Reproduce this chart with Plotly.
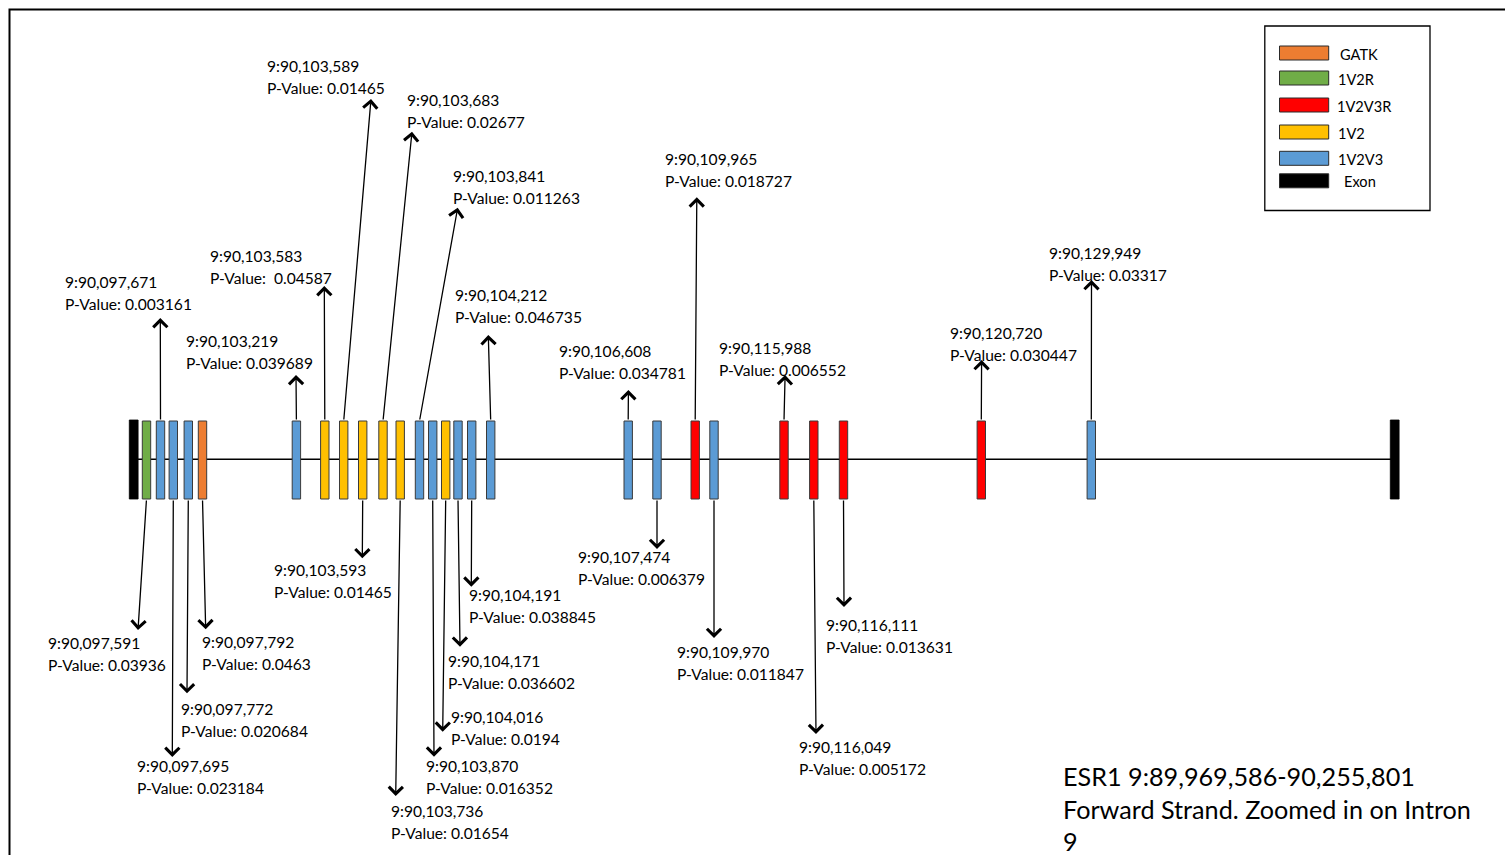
import plotly.graph_objects as go

# ESR1 intron 9 variants: genomic id, association p-value and the caller set that found them
variant_ids = [
    "9:90,097,591", "9:90,097,671", "9:90,097,695", "9:90,097,772", "9:90,097,792",
    "9:90,103,219", "9:90,103,583", "9:90,103,589", "9:90,103,593", "9:90,103,683",
    "9:90,103,736", "9:90,103,841", "9:90,103,870", "9:90,104,016", "9:90,104,171",
    "9:90,104,191", "9:90,104,212", "9:90,106,608", "9:90,107,474", "9:90,109,965",
    "9:90,109,970", "9:90,115,988", "9:90,116,049", "9:90,116,111", "9:90,120,720",
    "9:90,129,949",
]
p_values = [
    "0.03936", "0.003161", "0.023184", "0.020684", "0.0463",
    "0.039689", "\u00a00.04587", "0.01465", "0.01465", "0.02677",
    "0.01654", "0.011263", "0.016352", "0.0194", "0.036602",
    "0.038845", "0.046735", "0.034781", "0.006379", "0.018727",
    "0.011847", "0.006552", "0.005172", "0.013631", "0.030447",
    "0.03317",
]
caller_sets = [
    "1V2R", "1V2V3", "1V2V3", "1V2V3", "GATK",
    "1V2V3", "1V2", "1V2", "1V2", "1V2",
    "1V2", "1V2V3", "1V2V3", "1V2", "1V2V3",
    "1V2V3", "1V2V3", "1V2V3", "1V2V3", "1V2V3R",
    "1V2V3", "1V2V3R", "1V2V3R", "1V2V3R", "1V2V3R",
    "1V2V3",
]
# schematic (not to scale) position of each variant along the drawn intron
track_pos = [
    146.5, 160.5, 173.3, 188.3, 202.5,
    296.4, 324.8, 343.7, 362.7, 383.0,
    400.2, 419.5, 432.7, 445.7, 458.0,
    471.7, 490.7, 628.2, 657.0, 695.2,
    714.0, 784.0, 813.8, 843.5, 981.3,
    1091.3,
]
exon_pos = [133.7, 1394.7]

legend_names = ["GATK", "1V2R", "1V2V3R", "1V2", "1V2V3", "Exon"]

# ---- drawing layout -------------------------------------------------------
COLORS = {
    "GATK": "#ED7D31", "1V2R": "#70AD47", "1V2V3R": "#FF0000",
    "1V2": "#FFC000", "1V2V3": "#5B9BD5", "Exon": "#000000",
}
TRACK_Y = 459.3
BOX_TOP, BOX_BOT = 421.0, 499.0
BOX_W = 8.4
FONT = "Lato, 'Open Sans', sans-serif"
LINE_GAP = 22.0

# callout placement: side of the track, arrow tip (x, y), label corner (x, y)
callouts = [
    ("down", (138.0, 630.0), (47.5, 637.0)),
    ("up", (160.3, 318.0), (65.0, 276.0)),
    ("down", (172.3, 757.0), (136.7, 760.0)),
    ("down", (187.0, 693.3), (180.7, 703.3)),
    ("down", (205.7, 629.3), (202.3, 636.7)),
    ("up", (296.0, 375.0), (185.5, 335.5)),
    ("up", (324.3, 286.0), (210.0, 250.7)),
    ("up", (371.0, 99.0), (266.7, 60.0)),
    ("down", (362.3, 558.3), (273.5, 564.0)),
    ("up", (412.0, 131.7), (406.7, 94.3)),
    ("down", (395.7, 796.0), (390.7, 805.0)),
    ("up", (457.7, 207.7), (453.3, 170.0)),
    ("down", (434.0, 756.7), (426.0, 760.0)),
    ("down", (442.7, 731.7), (451.0, 711.0)),
    ("down", (460.0, 646.7), (447.7, 655.7)),
    ("down", (471.3, 586.7), (469.0, 589.3)),
    ("up", (488.3, 335.0), (455.0, 289.0)),
    ("up", (628.4, 390.0), (558.5, 345.0)),
    ("down", (657.0, 549.0), (578.3, 551.7)),
    ("up", (696.8, 197.3), (664.5, 153.0)),
    ("down", (714.0, 638.0), (676.5, 646.0)),
    ("up", (785.1, 375.0), (718.8, 342.7)),
    ("down", (816.0, 734.0), (798.5, 741.0)),
    ("down", (844.0, 607.0), (825.5, 619.0)),
    ("up", (981.6, 360.0), (949.7, 327.7)),
    ("up", (1091.5, 280.0), (1049.2, 247.3)),
]

shapes = []
annotations = []

# outer frame
shapes.append(dict(type="rect", x0=9.5, y0=9.5, x1=1515, y1=870,
                   line=dict(color="#000000", width=2), fillcolor="rgba(0,0,0,0)"))

# intron line
shapes.append(dict(type="line", x0=exon_pos[0], x1=exon_pos[1], y0=TRACK_Y, y1=TRACK_Y,
                   line=dict(color="#000000", width=1.6)))

# flanking exons
for ex in exon_pos:
    shapes.append(dict(type="rect", x0=ex - 4.4, x1=ex + 4.4, y0=420.0, y1=499.0,
                       line=dict(color="#000000", width=0.8), fillcolor="#000000"))

# variant boxes
for pos, cs in zip(track_pos, caller_sets):
    shapes.append(dict(type="rect", x0=pos - BOX_W / 2, x1=pos + BOX_W / 2,
                       y0=BOX_TOP, y1=BOX_BOT,
                       line=dict(color="#3a3a3a", width=1), fillcolor=COLORS[cs]))

# arrows and labels
for vid, pv, pos, (side, tip, lab) in zip(variant_ids, p_values, track_pos, callouts):
    tail_y = BOX_TOP if side == "up" else BOX_BOT
    annotations.append(dict(
        x=tip[0], y=tip[1], ax=pos, ay=tail_y,
        xref="x", yref="y", axref="x", ayref="y",
        text="", showarrow=True, arrowhead=4, arrowsize=2.1, arrowwidth=1.3,
        arrowcolor="#000000", standoff=0, startstandoff=0,
    ))
    for k, line in enumerate([vid, "P-Value: " + pv]):
        annotations.append(dict(
            x=lab[0], y=lab[1] + 5.5 + k * LINE_GAP, xref="x", yref="y",
            text=line, showarrow=False, xanchor="left", yanchor="middle",
            borderpad=0, borderwidth=0,
            font=dict(family=FONT, size=15.6, color="#000000"),
        ))

# legend box
shapes.append(dict(type="rect", x0=1264.8, x1=1430.0, y0=26.0, y1=210.5,
                   line=dict(color="#000000", width=1.3), fillcolor="#ffffff"))
legend_rows = [53.0, 78.0, 105.0, 132.0, 158.3, 180.8]
legend_text_x = [1340.0, 1338.0, 1337.0, 1338.0, 1338.0, 1344.0]
for name, yc, tx in zip(legend_names, legend_rows, legend_text_x):
    shapes.append(dict(type="rect", x0=1279.5, x1=1328.7, y0=yc - 7, y1=yc + 7,
                       line=dict(color="#2a2a2a", width=1), fillcolor=COLORS[name]))
    annotations.append(dict(
        x=tx, y=yc + 1, xref="x", yref="y", text=name, showarrow=False,
        xanchor="left", yanchor="middle", borderpad=0, borderwidth=0,
        font=dict(family=FONT, size=14.6, color="#000000"),
    ))

# gene / region caption
caption_lines = ["ESR1 9:89,969,586-90,255,801", "Forward Strand. Zoomed in on Intron", "9"]
for k, line in enumerate(caption_lines):
    annotations.append(dict(
        x=1062.5, y=776.0 + k * 32.5, xref="x", yref="y", text=line, showarrow=False,
        xanchor="left", yanchor="middle", borderpad=0, borderwidth=0,
        font=dict(family=FONT, size=25.2, color="#000000"),
    ))

fig = go.Figure()
fig.add_trace(go.Scatter(x=[0, 1505], y=[0, 855], mode="markers",
                         marker=dict(opacity=0), hoverinfo="skip", showlegend=False))
fig.update_layout(
    width=1505, height=855,
    margin=dict(l=0, r=0, t=0, b=0),
    paper_bgcolor="#ffffff", plot_bgcolor="#ffffff",
    xaxis=dict(range=[0, 1505], visible=False, fixedrange=True),
    yaxis=dict(range=[855, 0], visible=False, fixedrange=True),
    shapes=shapes, annotations=annotations, showlegend=False,
)
fig.write_html("out.html", config={"displayModeBar": False})
